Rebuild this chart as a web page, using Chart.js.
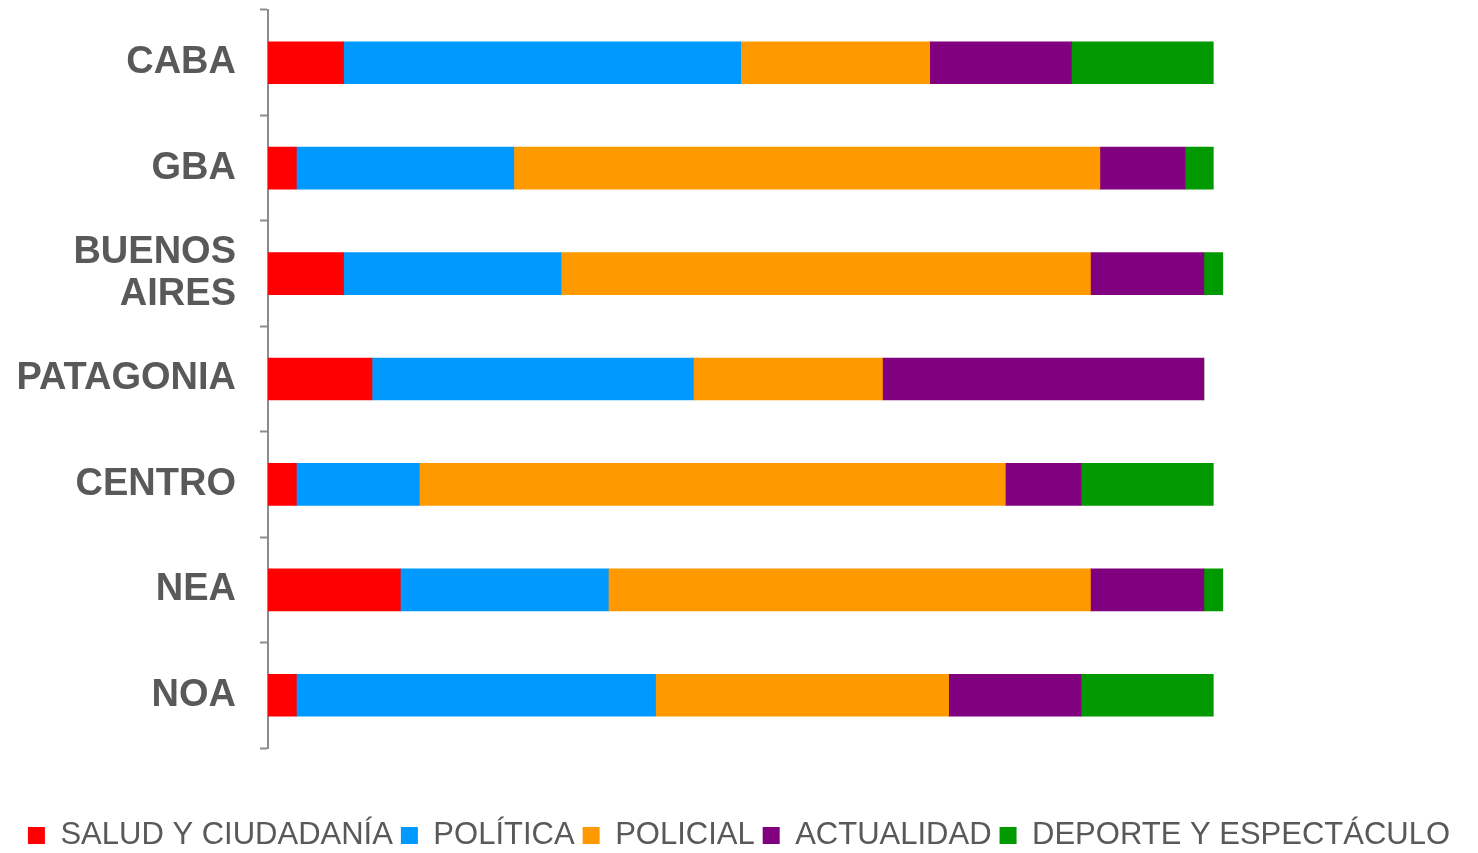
<!DOCTYPE html>
<html>
<head>
<meta charset="utf-8">
<script src="https://cdn.jsdelivr.net/npm/chart.js@4/dist/chart.umd.min.js"></script>
<style>
  html, body { margin: 0; padding: 0; background: #fff; }
  #wrap { width: 1478px; height: 853px; }
</style>
</head>
<body>
<div id="wrap"><canvas id="regionChart"></canvas></div>
<script>
const regions = ['CABA', 'GBA', ['BUENOS', 'AIRES'], 'PATAGONIA', 'CENTRO', 'NEA', 'NOA'];

const salud     = [8, 3, 8, 11, 3, 14, 3];
const politica  = [42, 23, 23, 34, 13, 22, 38];
const policial  = [20, 62, 56, 20, 62, 51, 31];
const actualidad = [15, 9, 12, 34, 8, 12, 14];
const deporte   = [15, 3, 2, 0, 14, 2, 14];

const chartData = {
  labels: regions,
  datasets: [
    { label: 'SALUD Y CIUDADANÍA', data: salud, backgroundColor: '#FF0000' },
    { label: 'POLÍTICA', data: politica, backgroundColor: '#0099FF' },
    { label: 'POLICIAL', data: policial, backgroundColor: '#FF9900' },
    { label: 'ACTUALIDAD', data: actualidad, backgroundColor: '#800080' },
    { label: 'DEPORTE Y ESPECTÁCULO', data: deporte, backgroundColor: '#009900' }
  ]
};

const ctx = document.getElementById('regionChart').getContext('2d');

const myChart = new Chart(ctx, {
  type: 'bar',
  data: chartData,
  options: {
    indexAxis: 'y',
    responsive: true,
    maintainAspectRatio: false,
    animation: false,
    barThickness: 42,
    layout: {
      padding: { top: 10, right: 0, left: 0, bottom: -8 }
    },
    scales: {
      x: {
        stacked: true,
        display: true,
        min: 0,
        max: 128,
        ticks: { display: false },
        grid: { display: false },
        border: { display: false },
        afterFit: function (scale) { scale.height = 64; }
      },
      y: {
        stacked: true,
        afterFit: function (scale) {
          scale.width = 268;
          scale.paddingTop = 0;
          scale.paddingBottom = 0;
        },
        border: { display: true, color: '#8c8c8c', width: 2 },
        grid: {
          display: true,
          offset: true,
          drawOnChartArea: false,
          tickLength: 8,
          tickWidth: 2,
          tickColor: '#8c8c8c'
        },
        ticks: {
          color: '#595959',
          padding: 24,
          font: { family: 'Liberation Sans, Arial, sans-serif', size: 38, weight: 'bold', lineHeight: 1.1 }
        }
      }
    },
    plugins: {
      legend: {
        position: 'bottom',
        labels: {
          color: '#595959',
          boxWidth: 17,
          boxHeight: 17,
          padding: 8,
          font: { family: 'Liberation Sans, Arial, sans-serif', size: 31, lineHeight: 1 }
        }
      },
      tooltip: { enabled: true }
    }
  }
});
</script>
</body>
</html>
